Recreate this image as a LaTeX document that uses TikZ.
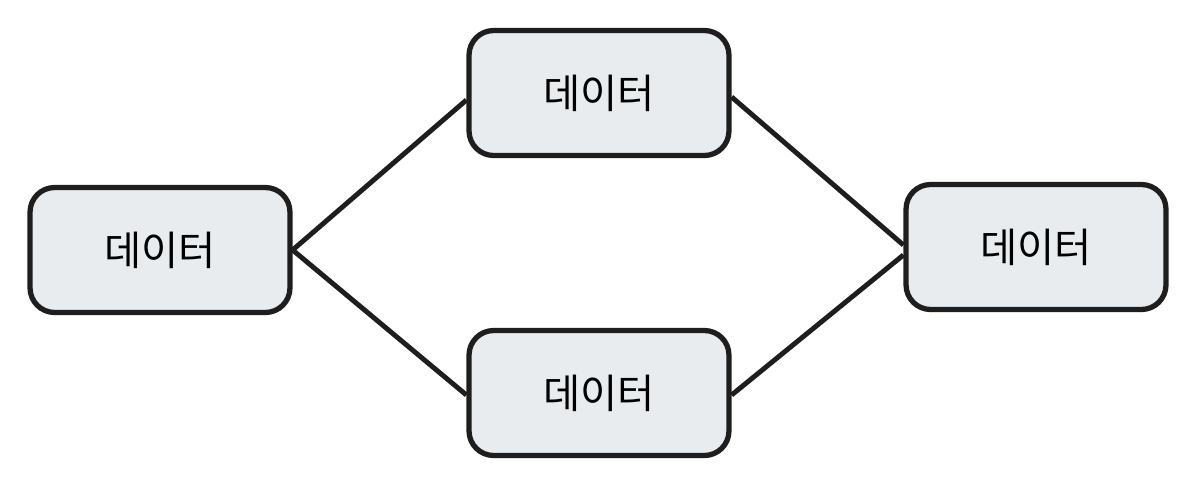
\documentclass[tikz,border=0pt]{standalone}
\usepackage{fontspec}
\newfontfamily\kr{Noto Sans CJK KR}
\definecolor{boxfill}{HTML}{E9ECEF}
\definecolor{ink}{HTML}{1E1E1E}
\begin{document}
\begin{tikzpicture}[x=0.02cm,y=-0.02cm,
  box/.style={draw=ink,line width=3pt,fill=boxfill,rounded corners=14pt,minimum width=5.2cm,minimum height=2.5cm,font=\kr\fontsize{23}{26}\selectfont},
  link/.style={line width=2.8pt,draw=ink}]
\useasboundingbox (0,0) rectangle (1199,487);
\node[box] (l) at (160,250) {데이터};
\node[box] (t) at (599,93) {데이터};
\node[box] (b) at (599,393) {데이터};
\node[box] (r) at (1036,247) {데이터};
\draw[link] (l.east) -- (t.west |- 0,100);
\draw[link] (l.east) -- (b.west |- 0,395);
\draw[link] (t.east |- 0,97) -- (r.west |- 0,245);
\draw[link] (b.east |- 0,395) -- (r.west |- 0,255);
\end{tikzpicture}
\end{document}
